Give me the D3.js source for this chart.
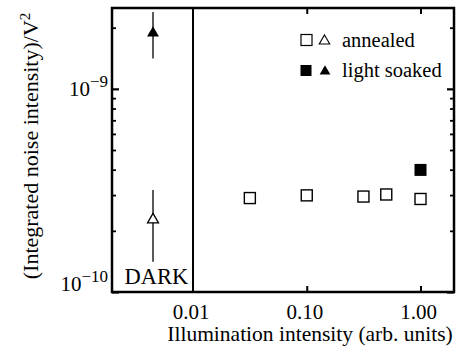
<!DOCTYPE html>
<html>
<head>
<meta charset="utf-8">
<script src="https://cdn.jsdelivr.net/npm/d3@7"></script>
<style>
  html, body { margin: 0; padding: 0; background: #fff; }
  svg { display: block; }
  text { font-family: "Liberation Serif", "Times New Roman", serif; fill: #000; }
</style>
</head>
<body>
<svg id="chart" width="471" height="353" font-family="Liberation Serif, Times New Roman, serif"></svg>
<script>
// ---- data ----
const xTickValues = [0.01, 0.1, 1];
const xTickLabels = ["0.01", "0.10", "1.00"];
const yMajorTicks = [1e-10, 1e-9];
const yMajorExp = ["\u221210", "\u22129"];
const yMinorTicks = [2e-10, 3e-10, 4e-10, 5e-10, 6e-10, 7e-10, 8e-10, 9e-10, 2e-9];

const annealedX = [0.0316, 0.1, 0.315, 0.50, 1.0];
const annealedY = [2.90e-10, 2.99e-10, 2.95e-10, 3.02e-10, 2.87e-10];
const soakedX = [1.0];
const soakedY = [3.99e-10];

const darkX = [0.00445];
const darkAnnealedY = [2.27e-10];
const darkAnnealedLo = [1.41e-10];
const darkAnnealedHi = [3.18e-10];
const darkSoakedY = [1.88e-9];
const darkSoakedLo = [1.41e-9];
const darkSoakedHi = [2.39e-9];

const legendLabels = ["annealed", "light soaked"];
const darkLabel = "DARK";
const xTitle = "Illumination intensity (arb. units)";
const yTitle = "(Integrated noise intensity)/V";

// ---- layout ----
const L = 112, R = 454, T = 8, B = 292;
const svg = d3.select("#chart");
const x = d3.scaleLog().domain([0.00194, 1.97]).range([L, R]);
const y = d3.scaleLog().domain([1e-10, 2.5e-9]).range([B, T]);

// axes ticks (inward)
function styleAxis(g, w) {
  g.select(".domain").remove();
  g.selectAll(".tick line").attr("stroke", "#000").attr("stroke-width", w);
  g.selectAll(".tick text").remove();
}
svg.append("g").attr("transform", `translate(${L},0)`)
  .call(d3.axisRight(y).tickValues(yMajorTicks).tickSize(7)).call(g => styleAxis(g, 2.2));
svg.append("g").attr("transform", `translate(${L},0)`)
  .call(d3.axisRight(y).tickValues(yMinorTicks).tickSize(4)).call(g => styleAxis(g, 1.8));
svg.append("g").attr("transform", `translate(${R},0)`)
  .call(d3.axisLeft(y).tickValues(yMajorTicks).tickSize(7)).call(g => styleAxis(g, 2.2));
svg.append("g").attr("transform", `translate(${R},0)`)
  .call(d3.axisLeft(y).tickValues(yMinorTicks).tickSize(4)).call(g => styleAxis(g, 1.8));
svg.append("g").attr("transform", `translate(0,${B})`)
  .call(d3.axisTop(x).tickValues(xTickValues.slice(1)).tickSize(6)).call(g => styleAxis(g, 2));
svg.append("g").attr("transform", `translate(0,${T})`)
  .call(d3.axisBottom(x).tickValues(xTickValues.slice(1)).tickSize(6)).call(g => styleAxis(g, 2));

// frame
svg.append("rect").attr("x", L).attr("y", T).attr("width", R - L).attr("height", B - T)
  .attr("fill", "none").attr("stroke", "#000").attr("stroke-width", 2.5);
// divider at 0.01
svg.append("line").attr("x1", x(0.01)).attr("x2", x(0.01)).attr("y1", T).attr("y2", B)
  .attr("stroke", "#000").attr("stroke-width", 2);

// x tick labels
svg.append("g").selectAll("text").data(xTickValues).join("text")
  .attr("x", d => x(d) - 2).attr("y", 319)
  .attr("text-anchor", "middle").attr("font-size", 21)
  .text((d, i) => xTickLabels[i]);

// y tick labels
const yl = svg.append("g").selectAll("text").data(yMajorTicks).join("text")
  .attr("x", 108).attr("y", (d, i) => y(d) + (i === 0 ? -1 : 7))
  .attr("text-anchor", "end").attr("font-size", 21);
yl.append("tspan").text("10");
yl.append("tspan").attr("dy", -9).attr("font-size", 17).text((d, i) => yMajorExp[i]);

// axis titles
svg.append("text").attr("x", 310).attr("y", 341).attr("text-anchor", "middle")
  .attr("font-size", 21.5).text(xTitle);
const yt = svg.append("text").attr("transform", "translate(38,146) rotate(-90)")
  .attr("text-anchor", "middle").attr("font-size", 22);
yt.append("tspan").text(yTitle);
yt.append("tspan").attr("dy", -8).attr("font-size", 15).text("2");

// DARK label
svg.append("text").attr("x", (x.range()[0] + x(0.01)) / 2 + 4).attr("y", 284)
  .attr("text-anchor", "middle").attr("font-size", 22.5).text(darkLabel);

// dotted line connecting light soaked points
const p0 = [x(darkX[0]), y(darkSoakedY[0])];
const p1 = [x(soakedX[0]), y(soakedY[0])];
const ip = d3.interpolate(p0, p1);
svg.append("path")
  .attr("d", d3.line()([ip(0.05), ip(0.96)]))
  .attr("stroke", "#000").attr("stroke-width", 1.4)
  .attr("stroke-dasharray", "1.4,5.6").attr("fill", "none");

// error bars
const errData = [
  {x: darkX[0], lo: darkAnnealedLo[0], hi: darkAnnealedHi[0]},
  {x: darkX[0], lo: darkSoakedLo[0], hi: darkSoakedHi[0]}
];
svg.append("g").selectAll("line").data(errData).join("line")
  .attr("x1", d => x(d.x)).attr("x2", d => x(d.x))
  .attr("y1", d => y(d.lo)).attr("y2", d => y(d.hi))
  .attr("stroke", "#000").attr("stroke-width", 1.3);

const tri = d3.symbol().type(d3.symbolTriangle);
// triangles
svg.append("path").attr("transform", `translate(${x(darkX[0])},${y(darkAnnealedY[0])})`)
  .attr("d", tri.size(52)()).attr("fill", "#fff").attr("stroke", "#000").attr("stroke-width", 1.3);
svg.append("path").attr("transform", `translate(${x(darkX[0])},${y(darkSoakedY[0])})`)
  .attr("d", tri.size(62)()).attr("fill", "#000");

// squares
svg.append("g").selectAll("rect").data(annealedX).join("rect")
  .attr("x", d => x(d) - 5.5).attr("y", (d, i) => y(annealedY[i]) - 5.5)
  .attr("width", 11).attr("height", 11)
  .attr("fill", "#fff").attr("stroke", "#000").attr("stroke-width", 1.4);
svg.append("g").selectAll("rect").data(soakedX).join("rect")
  .attr("x", d => x(d) - 6).attr("y", (d, i) => y(soakedY[i]) - 6)
  .attr("width", 12).attr("height", 12).attr("fill", "#000");

// legend
const lg = svg.append("g");
const rowY = [40, 70.5];
lg.append("rect").attr("x", 301).attr("y", rowY[0] - 5.5).attr("width", 11).attr("height", 11)
  .attr("fill", "#fff").attr("stroke", "#000").attr("stroke-width", 1.2);
lg.append("path").attr("transform", `translate(324.5,${rowY[0] + 1})`)
  .attr("d", tri.size(48)()).attr("fill", "#fff").attr("stroke", "#000").attr("stroke-width", 1.1);
lg.append("rect").attr("x", 300.5).attr("y", rowY[1] - 5.5).attr("width", 11).attr("height", 11)
  .attr("fill", "#000");
lg.append("path").attr("transform", `translate(325,${rowY[1] + 1})`)
  .attr("d", tri.size(50)()).attr("fill", "#000");
lg.selectAll("text").data(legendLabels).join("text")
  .attr("x", 342).attr("y", (d, i) => rowY[i] + 7 + (i === 1 ? -1 : 0))
  .attr("font-size", 20.5).text(d => d);
</script>
</body>
</html>
